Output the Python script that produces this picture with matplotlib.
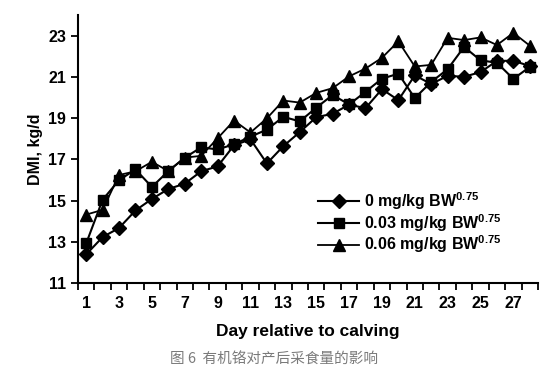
import numpy as np
import matplotlib
matplotlib.use("Agg")
import matplotlib.pyplot as plt
from matplotlib.ticker import FixedLocator

plt.rcParams['font.family'] = ['Liberation Sans', 'Noto Sans CJK SC', 'DejaVu Sans']
plt.rcParams['mathtext.fontset'] = 'custom'
plt.rcParams['mathtext.rm'] = 'Liberation Sans'
plt.rcParams['mathtext.bf'] = 'Liberation Sans:bold'

# 数据：产后天数与三组采食量
days = list(range(1, 29))
dmi_0 = [12.39, 13.23, 13.67, 14.52, 15.08, 15.56, 15.82, 16.42, 16.66, 17.68,
         17.97, 16.80, 17.64, 18.32, 19.04, 19.21, 19.65, 19.48, 20.40, 19.87,
         21.07, 20.65, 21.05, 21.00, 21.23, 21.77, 21.78, 21.52]
dmi_003 = [12.92, 15.04, 15.99, 16.51, 15.66, 16.43, 17.08, 17.58, 17.48, 17.73,
           18.10, 18.44, 19.06, 18.84, 19.50, 20.12, 19.66, 20.27, 20.91, 21.15,
           19.97, 20.75, 21.37, 22.45, 21.80, 21.68, 20.90, 21.48]
dmi_006 = [14.32, 14.55, 16.24, 16.42, 16.88, 16.43, 17.08, 17.17, 18.02, 18.88,
           18.30, 18.99, 19.85, 19.75, 20.22, 20.45, 21.02, 21.40, 21.92, 22.72,
           21.50, 21.58, 22.89, 22.78, 22.91, 22.54, 23.13, 22.51]
y_ticks = list(range(11, 24, 2))
x_ticks = list(range(1, 28, 2))
labels = [r'0 mg/kg BW$^{\mathregular{0.75}}$',
          r'0.03 mg/kg BW$^{\mathregular{0.75}}$',
          r'0.06 mg/kg BW$^{\mathregular{0.75}}$']

fig = plt.figure(figsize=(5.49, 3.73), dpi=100)
ax = fig.add_axes([0.142, 0.241, 0.838, 0.719])

ax.plot(days, dmi_0, color='black', lw=1.5, marker='D', ms=7, label=labels[0])
ax.plot(days, dmi_003, color='black', lw=1.5, marker='s', ms=7, label=labels[1])
ax.plot(days, dmi_006, color='black', lw=1.3, marker='^', ms=8.5, label=labels[2])

ax.set_xlim(0.5, 28.5)
ax.set_ylim(11, 24)
ax.spines['top'].set_visible(False)
ax.spines['right'].set_visible(False)
ax.spines['left'].set_linewidth(1.5)
ax.spines['bottom'].set_linewidth(1.5)

ax.xaxis.set_major_locator(FixedLocator(x_ticks))
ax.xaxis.set_minor_locator(FixedLocator(np.arange(0.5, 28.6, 1)))
ax.yaxis.set_major_locator(FixedLocator(y_ticks))
ax.tick_params(axis='x', which='major', length=0, pad=9, labelsize=11.5)
ax.tick_params(axis='x', which='minor', length=5, width=1.3, direction='out')
ax.tick_params(axis='y', which='major', length=5, width=1.3, direction='out', labelsize=11.5)
for t in ax.get_xticklabels() + ax.get_yticklabels():
    t.set_fontweight('bold')

ax.set_xlabel('Day relative to calving', fontsize=12.5, fontweight='bold', labelpad=10)
ax.set_ylabel('DMI, kg/d', fontsize=11.5, fontweight='bold', labelpad=4)

leg = ax.legend(loc='center right', bbox_to_anchor=(0.952, 0.225), frameon=False,
                prop={'weight': 'bold', 'size': 11.5}, handlelength=2.6,
                labelspacing=0.0, handletextpad=0.3)

fig.text(0.5, 0.035, '图 6  有机铬对产后采食量的影响', ha='center', va='center',
         fontsize=10.5, color='#7a7a7a', family=['Noto Sans CJK SC', 'DejaVu Sans'])

fig.savefig('out.png', dpi=100)
